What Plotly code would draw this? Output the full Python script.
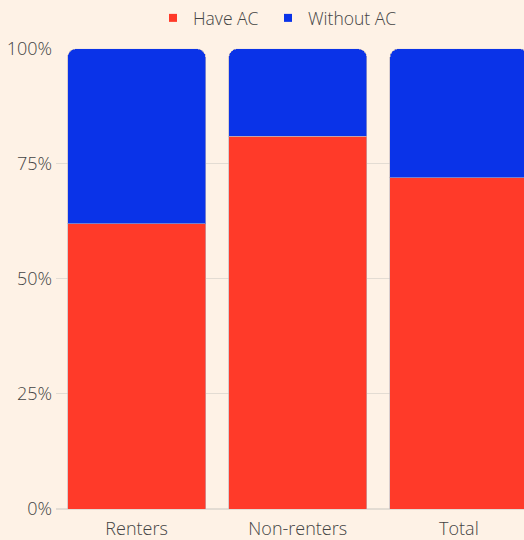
import plotly.graph_objects as go

categories = ["Renters", "Non-renters", "Total"]
have_ac = [62, 81, 72]
without_ac = [38, 19, 28]
tick_vals = [0, 25, 50, 75, 100]
tick_text = ["0%", "25%", "50%", "75%", "100%"]
series_names = ["Have AC", "Without AC"]
series_colors = ["#FF3A29", "#0A33E8"]

fig = go.Figure()
for vals, name, color in zip([have_ac, without_ac], series_names, series_colors):
    fig.add_trace(go.Bar(x=categories, y=vals, name=name, showlegend=False,
                         marker=dict(color=color, line=dict(color="rgba(190,180,190,0.6)", width=1))))
for name, color, lg in zip(series_names, series_colors, ["legend", "legend2"]):
    fig.add_trace(go.Scatter(x=[None], y=[None], mode="markers", name=name, legend=lg,
                             marker=dict(symbol="square", size=8, color=color)))

font_t = dict(family="Open Sans", color="#444444", size=18, weight=300)
font_l = dict(family="Open Sans", color="#444444", size=17.5, weight=300)
leg_common = dict(orientation="h", xanchor="left", y=1.0, yanchor="top",
                  xref="container", yref="container", font=font_l, itemwidth=30,
                  bgcolor="rgba(0,0,0,0)")
fig.update_layout(
    width=524, height=540,
    barmode="stack", bargap=0.143, barcornerradius=9,
    paper_bgcolor="#FEF2E6", plot_bgcolor="#FEF2E6",
    font=font_t,
    margin=dict(l=56, r=0, t=45, b=30),
    legend=dict(x=153 / 524, **leg_common),
    legend2=dict(x=268 / 524, **leg_common),
    xaxis=dict(range=[-0.5, 2.404], showgrid=False, ticks="", tickfont=font_t,
               ticklabelstandoff=7),
    yaxis=dict(range=[0, 100], tickvals=tick_vals, ticktext=tick_text,
               gridcolor="#E3DCD3", gridwidth=1, zeroline=True, zerolinecolor="#E3DCD3",
               ticks="", ticklabelstandoff=3, tickfont=font_t),
    showlegend=True,
)

fig.write_html("out.html", config={"displayModeBar": False},
               post_script="document.body.style.margin='0';document.body.style.background='#FEF2E6';")
